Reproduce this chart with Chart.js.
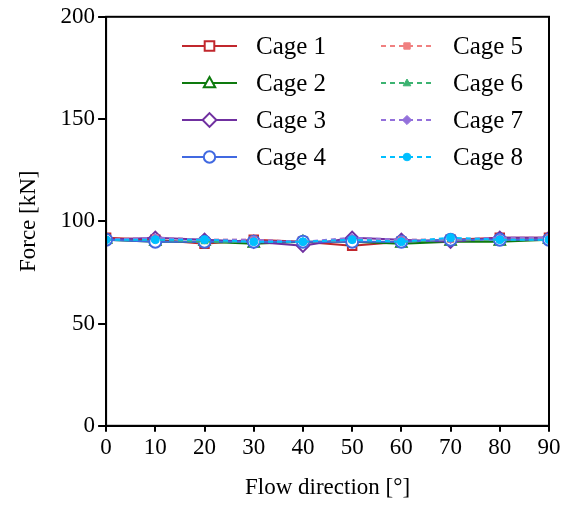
<!DOCTYPE html>
<html>
<head>
<meta charset="utf-8">
<script src="https://cdn.jsdelivr.net/npm/chart.js@4.4.1/dist/chart.umd.min.js"></script>
<style>
  html, body { margin: 0; padding: 0; background: #fff; }
  #wrap { width: 563px; height: 508px; position: relative; }
</style>
</head>
<body>
<div id="wrap"><canvas id="c"></canvas></div>
<script>
// flow directions (deg)
const directions = [0, 10, 20, 30, 40, 50, 60, 70, 80, 90];

// force on each cage (kN)
const cage1 = [92, 91, 89, 91, 90, 88, 90, 91, 92, 92];
const cage2 = [91, 90, 90, 89, 90, 90, 89, 90, 90, 91];
const cage3 = [91, 92, 91, 90, 88, 92, 91, 90, 92, 92];
const cage4 = [91, 90, 90, 90, 90, 90, 90, 91, 91, 91];
const cage5 = [91, 92, 91, 91, 90, 91, 91, 91, 91, 92];
const cage6 = [91, 91, 90, 90, 90, 91, 90, 91, 91, 91];
const cage7 = [91, 92, 91, 91, 90, 92, 91, 91, 92, 92];
const cage8 = [91, 91, 91, 90, 90, 91, 90, 92, 91, 91];

const cageNames = ['Cage 1', 'Cage 2', 'Cage 3', 'Cage 4', 'Cage 5', 'Cage 6', 'Cage 7', 'Cage 8'];
const cageValues = [cage1, cage2, cage3, cage4, cage5, cage6, cage7, cage8];
const yTicks = [0, 50, 100, 150, 200];

const colors = ['#c1272d', '#0e7a0e', '#7030a0', '#4169e1', '#f08080', '#3cb371', '#9370db', '#00bfff'];
const markers = ['rect', 'triangle', 'rectRot', 'circle', 'rect', 'triangle', 'rectRot', 'circle'];

const FONT = '"Liberation Serif", "Times New Roman", serif';

const datasets = cageValues.map((vals, i) => {
  const solid = i < 4;
  return {
    label: cageNames[i],
    data: vals,
    borderColor: colors[i],
    backgroundColor: solid ? '#ffffff' : colors[i],
    pointBorderColor: colors[i],
    pointBackgroundColor: solid ? '#ffffff' : colors[i],
    pointStyle: markers[i],
    pointRadius: solid ? 6 : 4,
    pointBorderWidth: solid ? 2 : 1,
    borderWidth: 2,
    borderDash: solid ? [] : [5, 4],
    tension: 0,
    order: 7 - i
  };
});

// small marker drawer for the legend
function drawMarker(ctx, style, x, y, r) {
  ctx.beginPath();
  if (style === 'rect') {
    ctx.rect(x - r * 0.8, y - r * 0.8, r * 1.6, r * 1.6);
  } else if (style === 'triangle') {
    ctx.moveTo(x, y - r);
    ctx.lineTo(x + r * 0.95, y + r * 0.7);
    ctx.lineTo(x - r * 0.95, y + r * 0.7);
    ctx.closePath();
  } else if (style === 'rectRot') {
    ctx.moveTo(x, y - r * 1.15);
    ctx.lineTo(x + r * 1.15, y);
    ctx.lineTo(x, y + r * 1.15);
    ctx.lineTo(x - r * 1.15, y);
    ctx.closePath();
  } else {
    ctx.arc(x, y, r * 0.95, 0, Math.PI * 2);
  }
  ctx.fill();
  ctx.stroke();
}

const legendBox = {
  id: 'legendBox',
  afterDraw(chart) {
    const ctx = chart.ctx;
    const area = chart.chartArea;
    ctx.save();
    // frame around the plot
    ctx.strokeStyle = '#000';
    ctx.lineWidth = 2;
    ctx.strokeRect(area.left, area.top, area.right - area.left, area.bottom - area.top);

    // two-column legend
    const cols = [{ x0: 182, x1: 237, tx: 256 }, { x0: 381, x1: 433, tx: 453 }];
    const rows = [46, 83, 120, 157];
    ctx.font = '25px ' + FONT;
    ctx.textBaseline = 'middle';
    chart.data.datasets.forEach((ds, i) => {
      const c = cols[Math.floor(i / 4)];
      const y = rows[i % 4];
      ctx.strokeStyle = ds.borderColor;
      ctx.lineWidth = 2;
      ctx.setLineDash(ds.borderDash);
      ctx.beginPath();
      ctx.moveTo(c.x0, y);
      ctx.lineTo(c.x1, y);
      ctx.stroke();
      ctx.setLineDash([]);
      ctx.fillStyle = ds.pointBackgroundColor;
      ctx.lineWidth = ds.pointBorderWidth;
      drawMarker(ctx, ds.pointStyle, (c.x0 + c.x1) / 2, y, ds.pointRadius);
      ctx.fillStyle = '#000';
      ctx.fillText(ds.label, c.tx, y + 1);
    });
    ctx.restore();
  }
};

new Chart(document.getElementById('c'), {
  type: 'line',
  data: { labels: directions, datasets: datasets },
  options: {
    responsive: true,
    maintainAspectRatio: false,
    animation: false,
    layout: { padding: { left: 15, right: 14, top: 4, bottom: 6 } },
    plugins: {
      legend: { display: false },
      tooltip: { enabled: false }
    },
    scales: {
      x: {
        type: 'linear',
        min: 0,
        max: 90,
        afterBuildTicks: (axis) => { axis.ticks = directions.map(v => ({ value: v })); },
        grid: { display: true, drawOnChartArea: false, drawTicks: true, tickLength: 6, color: '#000', lineWidth: 2 },
        border: { display: true, color: '#000', width: 2 },
        ticks: { color: '#000', font: { family: FONT, size: 23 }, padding: 2, maxRotation: 0 },
        title: { display: true, text: 'Flow direction [°]', color: '#000', font: { family: FONT, size: 23 }, padding: { top: 11, bottom: 0 } }
      },
      y: {
        min: 0,
        max: 200,
        afterBuildTicks: (axis) => { axis.ticks = yTicks.map(v => ({ value: v })); },
        grid: { display: true, drawOnChartArea: false, drawTicks: true, tickLength: 8, color: '#000', lineWidth: 2 },
        border: { display: true, color: '#000', width: 2 },
        ticks: { color: '#000', font: { family: FONT, size: 23 }, padding: 3 },
        title: { display: true, text: 'Force [kN]', color: '#000', font: { family: FONT, size: 23 }, padding: { top: 0, bottom: 15 } }
      }
    }
  },
  plugins: [legendBox]
});
</script>
</body>
</html>
